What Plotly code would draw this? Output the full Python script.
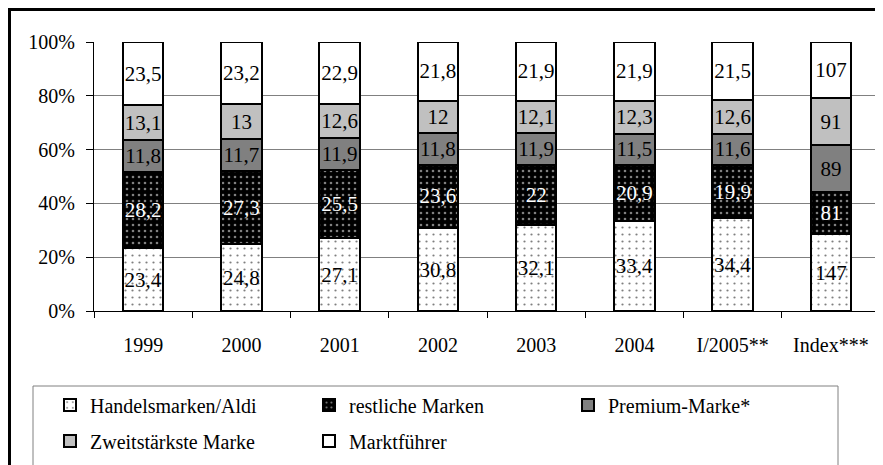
import plotly.graph_objects as go

categories = ["1999", "2000", "2001", "2002", "2003", "2004", "I/2005**", "Index***"]

handelsmarken = [23.4, 24.8, 27.1, 30.8, 32.1, 33.4, 34.4, 147]
restliche = [28.2, 27.3, 25.5, 23.6, 22, 20.9, 19.9, 81]
premium = [11.8, 11.7, 11.9, 11.8, 11.9, 11.5, 11.6, 89]
zweit = [13.1, 13, 12.6, 12, 12.1, 12.3, 12.6, 91]
marktfuehrer = [23.5, 23.2, 22.9, 21.8, 21.9, 21.9, 21.5, 107]

series_names = ["Handelsmarken/Aldi", "restliche Marken", "Premium-Marke*",
                "Zweitstärkste Marke", "Marktführer"]

FONT = "Liberation Serif, Times New Roman, serif"


def fmt(v):
    return f"{v:g}".replace(".", ",")


styles = [
    dict(color="white", pattern=dict(shape=".", fgcolor="black", bgcolor="white", size=7, solidity=0.08), txt="black"),
    dict(color="black", pattern=dict(shape=".", fgcolor="white", bgcolor="black", size=6, solidity=0.15), txt="white"),
    dict(color="#808080", pattern=None, txt="black"),
    dict(color="#C0C0C0", pattern=None, txt="black"),
    dict(color="white", pattern=None, txt="black"),
]
legend_ids = ["legend", "legend", "legend", "legend2", "legend2"]

fig = go.Figure()
for name, vals, st, lg in zip(series_names, [handelsmarken, restliche, premium, zweit, marktfuehrer], styles, legend_ids):
    marker = dict(color=st["color"], line=dict(color="black", width=2))
    if st["pattern"]:
        marker["pattern"] = st["pattern"]
    fig.add_trace(go.Bar(
        x=categories, y=vals, name=name, legend=lg,
        marker=marker,
        text=[fmt(v) for v in vals],
        textposition="inside", insidetextanchor="middle", textangle=0,
        constraintext="none",
        textfont=dict(family=FONT, size=21, color=st["txt"]),
        hoverinfo="skip",
    ))

# page is shown with an 8px body margin, so figure coords = page coords - 8
OFF = 8
W, H = 883 - OFF, 465 - OFF
L, R, T, B = 94 - OFF, 3, 42 - OFF, 465 - 311
pw, ph = W - L - R, H - T - B


def px(xp):  # page x -> paper
    return (xp - OFF - L) / pw


def py(yp):  # page y -> paper
    return (H - B - (yp - OFF)) / ph


legend_common = dict(orientation="h", traceorder="normal",
                     xanchor="left", yanchor="middle",
                     entrywidth=214, entrywidthmode="pixels",
                     font=dict(family=FONT, size=20, color="black"),
                     bgcolor="rgba(0,0,0,0)", borderwidth=0, itemwidth=30)

fig.update_layout(
    width=W, height=H,
    margin=dict(l=L, r=R, t=T, b=B, autoexpand=False),
    barmode="stack", barnorm="percent", bargap=0.59,
    paper_bgcolor="white", plot_bgcolor="white",
    font=dict(family=FONT, size=20, color="black"),
    showlegend=True,
    legend=dict(x=px(50), y=py(405), **legend_common),
    legend2=dict(x=px(50), y=py(441), **legend_common),
    xaxis=dict(showline=True, linecolor="black", linewidth=1,
               ticks="outside", tickson="boundaries", ticklen=6, tickcolor="black",
               ticklabelstandoff=16, showgrid=False,
               tickfont=dict(family=FONT, size=20)),
    yaxis=dict(range=[0, 100], dtick=20, ticksuffix="%",
               showline=True, linecolor="black", linewidth=1,
               ticks="outside", ticklen=7, tickcolor="black",
               showgrid=True, gridcolor="#808080", gridwidth=1,
               ticklabelstandoff=7, zeroline=False,
               tickfont=dict(family=FONT, size=20)),
    shapes=[
        dict(type="rect", xref="paper", yref="paper",
             x0=px(9.5), x1=px(900), y0=py(490), y1=py(9.5),
             line=dict(color="black", width=3), layer="below"),
        dict(type="rect", xref="paper", yref="paper",
             x0=px(33), x1=px(838), y0=py(490), y1=py(386),
             line=dict(color="#808080", width=1), layer="below"),
    ],
)

fig.write_html("out.html")
